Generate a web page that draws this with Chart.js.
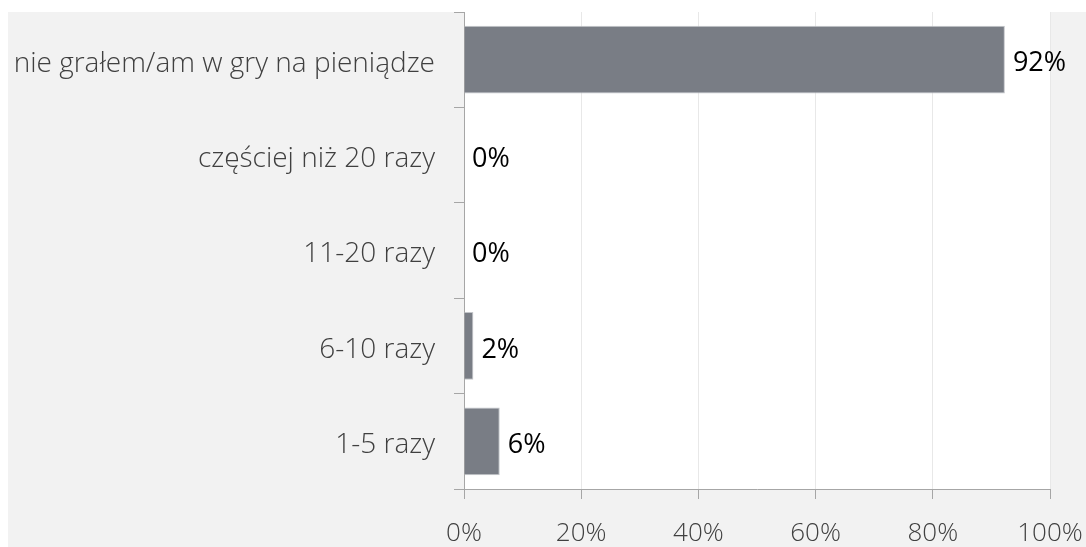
<!DOCTYPE html>
<html>
<head>
<meta charset="utf-8">
<script src="https://cdn.jsdelivr.net/npm/chart.js@4.4.1/dist/chart.umd.min.js"></script>
<style>
  html, body { margin: 0; padding: 0; background: #ffffff; }
  #wrap { position: absolute; left: 8px; top: 12px; width: 1078px; height: 535px; background: #f2f2f2; }
</style>
</head>
<body>
<div id="wrap"><canvas id="chart"></canvas></div>
<script>
const categories = [
    "nie grałem/am w gry na pieniądze",
    "częściej niż 20 razy",
    "11-20 razy",
    "6-10 razy",
    "1-5 razy",
];
const values = [92.3, 0, 0, 1.6, 6.1];
const tickValues = [0, 20, 40, 60, 80, 100];

const FONT = "'Open Sans', 'Noto Sans', sans-serif";

// white plot area on the gray page
const plotBackground = {
    id: "plotBackground",
    beforeDraw(chart) {
        const { ctx, chartArea } = chart;
        ctx.save();
        ctx.fillStyle = "#ffffff";
        ctx.fillRect(chartArea.left, chartArea.top, chartArea.right - chartArea.left, chartArea.bottom - chartArea.top);
        ctx.restore();
    }
};

// percentage labels after each bar
const barLabels = {
    id: "barLabels",
    afterDatasetsDraw(chart) {
        const { ctx } = chart;
        const meta = chart.getDatasetMeta(0);
        ctx.save();
        ctx.font = "400 27px " + FONT;
        ctx.fillStyle = "#000000";
        ctx.textAlign = "left";
        ctx.textBaseline = "middle";
        meta.data.forEach((bar, i) => {
            ctx.fillText(Math.round(values[i]) + "%", bar.x + 8, bar.y + 4);
        });
        ctx.restore();
    }
};

new Chart(document.getElementById("chart"), {
    type: "bar",
    data: {
        labels: categories,
        datasets: [{
            data: values,
            backgroundColor: "#797d85",
            borderColor: "#c4c6ca",
            borderWidth: 1,
            borderSkipped: "start",
            barPercentage: 0.71,
            categoryPercentage: 1,
        }]
    },
    options: {
        indexAxis: "y",
        responsive: true,
        maintainAspectRatio: false,
        animation: false,
        layout: { padding: { right: 36, top: 0, left: 0, bottom: 0 } },
        plugins: {
            legend: { display: false },
            tooltip: { enabled: false },
        },
        scales: {
            x: {
                min: 0,
                max: 100,
                afterBuildTicks: (scale) => {
                    scale.ticks = tickValues.map(v => ({ value: v }));
                },
                afterFit: (scale) => {
                    scale.height = 58;
                    scale.paddingLeft = 0;
                    scale.paddingRight = 0;
                },
                grid: {
                    color: "#e8e8e8",
                    tickColor: "#a6a6a6",
                    tickLength: 10,
                },
                border: { color: "#a6a6a6", width: 1 },
                ticks: {
                    color: "#404040",
                    padding: 19,
                    maxRotation: 0,
                    font: { family: FONT, size: 26, weight: "300" },
                    callback: (v) => v + "%",
                },
            },
            y: {
                afterFit: (scale) => {
                    scale.width = 456;
                    scale.paddingTop = 0;
                    scale.paddingBottom = 0;
                },
                grid: {
                    drawOnChartArea: false,
                    tickColor: "#a6a6a6",
                    tickLength: 10,
                    offset: true,
                },
                border: { color: "#a6a6a6", width: 1 },
                ticks: {
                    color: "#404040",
                    padding: 19,
                    labelOffset: 4,
                    font: { family: FONT, size: 28, weight: "300" },
                },
            },
        },
    },
    plugins: [plotBackground, barLabels],
});
</script>
</body>
</html>
